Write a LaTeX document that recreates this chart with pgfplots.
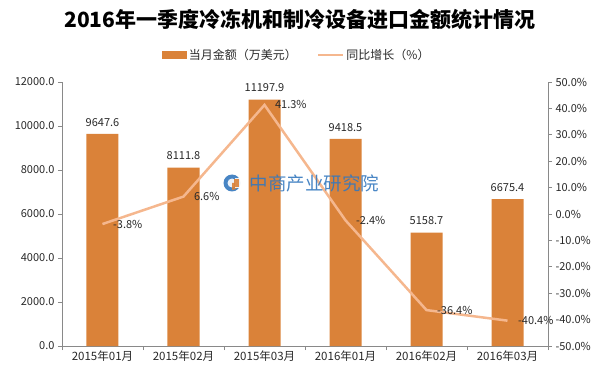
\documentclass[border=0pt]{standalone}
\usepackage{fontspec}
\setmainfont{Noto Sans CJK SC}
\usepackage{pgfplots}
\pgfplotsset{compat=1.18}
\definecolor{barc}{RGB}{218,130,57}
\definecolor{linec}{RGB}{245,183,142}
\definecolor{axc}{RGB}{137,137,137}
\definecolor{txtc}{RGB}{40,40,40}
\definecolor{wmblue}{RGB}{52,120,190}
\begin{document}
\begin{tikzpicture}
\useasboundingbox (-62pt,-32pt) rectangle (540pt,346pt);
\pgfplotsset{
  every axis/.append style={
    scale only axis, width=486pt, height=264pt,
    at={(0pt,0pt)}, anchor=south west,
    xmin=-0.5, xmax=5.5,
    /pgf/number format/assume math mode=true,
    /pgf/number format/1000 sep={},
    scaled y ticks=false,
    tick label style={font=\fontsize{11}{13}\selectfont, text=txtc},
    axis line style={draw=axc, line width=0.7pt},
    major tick length=4pt,
    every tick/.style={draw=axc, line width=0.7pt},
  }
}
\begin{axis}[
  ymin=0, ymax=12000, ytick distance=2000,
  axis y line*=left, axis x line*=bottom,
  y axis line style={-}, x axis line style={-},
  yticklabel={\pgfmathprintnumber[fixed,fixed zerofill,precision=1]{\tick}},
  xtick={0,...,5},
  xticklabels={2015年01月,2015年02月,2015年03月,2016年01月,2016年02月,2016年03月},
  x tick label style={font=\fontsize{11.5}{13}\selectfont, yshift=-1pt},
  xtick style={draw=none},
  extra x ticks={-0.5,0.5,1.5,2.5,3.5,4.5,5.5},
  extra x tick labels={},
  extra x tick style={xtick style={draw=axc}, tick align=outside, major tick length=4pt},
  ytick align=outside,
  legend columns=2,
  legend style={at={(0.483,1.102)}, anchor=center, draw=none, fill=none,
    font=\fontsize{12}{14}\selectfont, text=txtc,
    /tikz/every even column/.append style={column sep=18pt}},
]
\addplot[ybar, bar width=32pt, fill=barc, draw=none,
  nodes near coords={\pgfmathprintnumber[fixed,fixed zerofill,precision=1]{\pgfplotspointmeta}},
  every node near coord/.append style={font=\fontsize{11}{13}\selectfont, text=txtc, yshift=4pt},
  legend image code/.code={\fill[barc] (0pt,-4pt) rectangle (25pt,4pt);}]
  coordinates {(0,9647.6) (1,8111.8) (2,11197.9) (3,9418.5) (4,5158.7) (5,6675.4)};
\addlegendentry{当月金额（万美元）}
\addlegendimage{legend image code/.code={\draw[linec, line width=2.5pt] (0pt,0pt) -- (25pt,0pt);}}
\addlegendentry{同比增长（\%）}
\end{axis}
\begin{axis}[
  ymin=-50, ymax=50, ytick distance=10,
  axis y line*=right, axis x line=none,
  y axis line style={-},
  ytick align=outside,
  yticklabel={\pgfmathprintnumber[fixed,fixed zerofill,precision=1]{\tick}\%},
  clip=false,
]
\addplot[linec, line width=2.5pt, no markers,
  nodes near coords={\pgfmathprintnumber[fixed,fixed zerofill,precision=1]{\pgfplotspointmeta}\%},
  every node near coord/.append style={anchor=west, xshift=6pt, font=\fontsize{11}{13}\selectfont, text=txtc}]
  coordinates {(0,-3.8) (1,6.6) (2,41.3) (3,-2.4) (4,-36.4) (5,-40.4)};
\end{axis}
% title
\node[font=\fontsize{21}{25}\selectfont\bfseries, text=black] at (238pt,326pt) {2016年一季度冷冻机和制冷设备进口金额统计情况};
% watermark
\begin{scope}[opacity=0.9]
\fill[wmblue] (170pt,163pt) circle (8.5pt);
\fill[white] (170pt,163pt) circle (4.5pt);
\fill[barc] (170pt,163pt) -- ++(0:7pt) arc (0:-90:7pt) -- cycle;
\fill[white] (173pt,158pt) rectangle (180pt,168pt);
\fill[barc] (172pt,159pt) rectangle (177pt,167pt);
\node[font=\fontsize{18.5}{20}\selectfont, text=wmblue, anchor=west] at (184pt,163pt) {中商产业研究院};
\end{scope}
\end{tikzpicture}
\end{document}
